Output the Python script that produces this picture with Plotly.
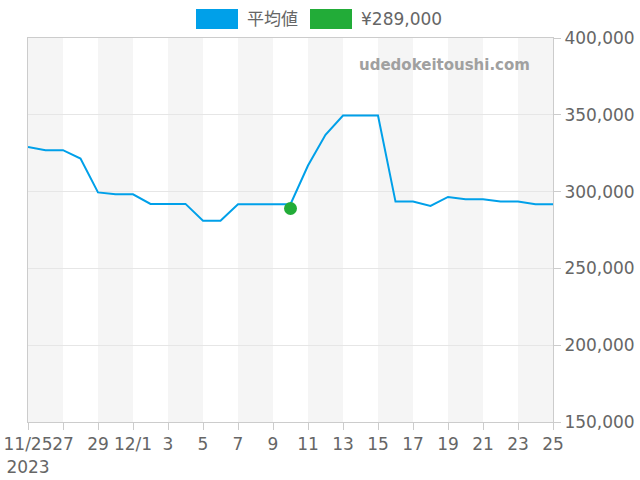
import pandas as pd
import plotly.graph_objects as go

dates = pd.date_range("2023-11-25", "2023-12-25", freq="D")
avg_values = [329000, 327000, 327000, 321500, 299500, 298200, 298200, 292000, 292000, 292000,
              281000, 281000, 291800, 291800, 291800, 291800, 317000, 337000, 349500, 349500,
              349500, 293500, 293500, 290700, 296500, 295000, 295000, 293500, 293500, 291700,
              291700]
point_date = ["2023-12-10"]
point_value = [289000]
tick_dates = pd.date_range("2023-11-25", "2023-12-25", freq="2D")
tick_labels = ["11/25<br>2023", "27", "29", "12/1", "3", "5", "7", "9", "11", "13",
               "15", "17", "19", "21", "23", "25"]
legend_names = ["平均値", "¥289,000"]

BLUE = "#00a0e9"
GREEN = "#22ac38"
FONT = "DejaVu Sans, Noto Sans CJK JP"

fig = go.Figure()
fig.add_trace(go.Scatter(x=dates, y=avg_values, mode="lines",
                         line=dict(color=BLUE, width=2), name=legend_names[0],
                         showlegend=False))
fig.add_trace(go.Scatter(x=pd.to_datetime(point_date), y=point_value, mode="markers",
                         marker=dict(color=GREEN, size=13), name=legend_names[1],
                         showlegend=False))

shapes = []
for i in range(0, len(tick_dates) - 1, 2):
    shapes.append(dict(type="rect", xref="x", yref="paper", x0=tick_dates[i], x1=tick_dates[i + 1],
                       y0=0, y1=1, fillcolor="#f5f5f5", line=dict(width=0), layer="below"))

# custom legend (page pixel positions relative to plot area at 28..553 x 38..422)
L, W, T, H = 28, 525, 38, 384
def px_x(p):
    return (p - L) / W
def px_y(p):
    return 1 - (p - T) / H

shapes.append(dict(type="rect", xref="paper", yref="paper", x0=px_x(196), x1=px_x(238),
                   y0=px_y(29), y1=px_y(9), fillcolor=BLUE, line=dict(width=0)))
shapes.append(dict(type="rect", xref="paper", yref="paper", x0=px_x(310), x1=px_x(352),
                   y0=px_y(29), y1=px_y(9), fillcolor=GREEN, line=dict(width=0)))

annotations = [
    dict(text=legend_names[0], xref="paper", yref="paper", x=px_x(245), y=px_y(19),
         xanchor="left", yanchor="middle", showarrow=False,
         font=dict(family=FONT, size=17, color="#666666")),
    dict(text=legend_names[1], xref="paper", yref="paper", x=px_x(359), y=px_y(19),
         xanchor="left", yanchor="middle", showarrow=False,
         font=dict(family=FONT, size=17, color="#666666")),
    dict(text="<b>udedokeitoushi.com</b>", xref="paper", yref="paper", x=px_x(532), y=px_y(65),
         xanchor="right", yanchor="middle", showarrow=False,
         font=dict(family=FONT, size=15, color="#a0a0a0")),
]

fig.update_layout(
    width=640, height=480,
    margin=dict(l=28, r=87, t=38, b=58),
    plot_bgcolor="white", paper_bgcolor="white",
    font=dict(family=FONT, size=17, color="#666666"),
    shapes=shapes, annotations=annotations,
    showlegend=False,
    xaxis=dict(range=[dates[0], dates[-1]], tickvals=tick_dates, ticktext=tick_labels,
               tickangle=0, automargin=False, ticklabeloverflow="allow",
               showgrid=False, showline=True, linecolor="#cccccc", linewidth=1, mirror=True,
               ticks="outside", ticklen=7, tickcolor="#cccccc", zeroline=False,
               tickfont=dict(family=FONT, size=17, color="#666666")),
    yaxis=dict(range=[150000, 400000], dtick=50000, tickformat=",", side="right",
               automargin=False, ticklabeloverflow="allow",
               showgrid=True, gridcolor="#e6e6e6", showline=True, linecolor="#cccccc",
               linewidth=1, mirror=True, ticks="outside", ticklen=7, tickcolor="#cccccc",
               zeroline=False, tickfont=dict(family=FONT, size=17, color="#666666")),
)

fig.write_html("out.html", config={"displayModeBar": False},
               post_script="document.body.style.margin='0';document.body.style.padding='0';")
